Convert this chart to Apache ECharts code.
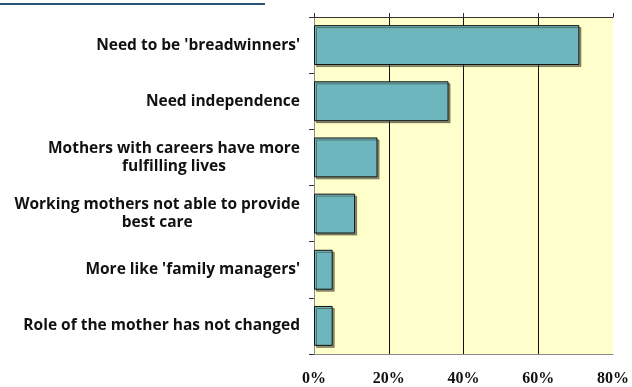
<!DOCTYPE html>
<html>
<head>
<meta charset="utf-8">
<script src="https://cdn.jsdelivr.net/npm/echarts@6/dist/echarts.min.js"></script>
<style>
  html, body { margin: 0; padding: 0; background: #ffffff; }
  #chart { width: 632px; height: 387px; }
</style>
</head>
<body>
<div id="chart"></div>
<script>
// Survey responses: reasons given, share of respondents (%)
const categories = [
  "Need to be 'breadwinners'",
  "Need independence",
  "Mothers with careers have more\nfulfilling lives",
  "Working mothers not able to provide\nbest care",
  "More like 'family managers'",
  "Role of the mother has not changed"
];
const shares = [71, 36, 17, 11, 5, 5];
const axisTicks = [0, 20, 40, 60, 80];

const labelFont = { family: 'Open Sans', size: 15.5, weight: 'bold' };
const labelGap = 14;   // distance from the category axis to the end of each label

const chart = echarts.init(document.getElementById('chart'));

const titleRule = { type: 'rect', left: 0, top: 3, shape: { width: 265, height: 2 }, style: { fill: '#2B5378' } };

chart.setOption({
  animation: false,
  backgroundColor: '#ffffff',
  graphic: [titleRule],
  grid: {
    left: 314, right: 18, top: 17, bottom: 33,
    show: true, backgroundColor: '#FFFFCC', borderWidth: 0
  },
  xAxis: [
    {
      type: 'value', position: 'top',
      min: axisTicks[0], max: axisTicks[axisTicks.length - 1], interval: 20,
      axisLine: { show: true, lineStyle: { color: '#333333', width: 1 } },
      axisTick: { show: true, inside: false, length: 4, lineStyle: { color: '#333333' } },
      axisLabel: { show: false },
      splitLine: { show: true, showMinLine: false, showMaxLine: false, lineStyle: { color: '#111111', width: 1 } }
    },
    {
      type: 'value', position: 'bottom',
      min: axisTicks[0], max: axisTicks[axisTicks.length - 1], interval: 20,
      axisLine: { show: true, lineStyle: { color: '#8a8a8a', width: 1 } },
      axisTick: { show: false },
      splitLine: { show: false },
      axisLabel: {
        show: true, margin: 17, formatter: '{value}%',
        fontFamily: 'Liberation Serif', fontWeight: 'bold', fontSize: 16, color: '#111111'
      }
    }
  ],
  yAxis: [
    {
      type: 'category', data: categories, inverse: true,
      axisLine: { show: true, lineStyle: { color: '#111111', width: 1 } },
      axisTick: { show: true, length: 5, lineStyle: { color: '#333333' } },
      axisLabel: { show: false }
    },
    {
      type: 'category', data: categories, inverse: true, position: 'right',
      axisLine: { show: true, lineStyle: { color: '#8a8a8a', width: 1 } },
      axisTick: { show: false }, axisLabel: { show: false }
    }
  ],
  series: [
    {
      type: 'bar', xAxisIndex: 0, yAxisIndex: 0,
      data: shares, barCategoryGap: '29%',
      itemStyle: {
        color: '#6DB6BD', borderColor: '#111111', borderWidth: 1,
        shadowColor: 'rgba(60,60,40,0.55)', shadowOffsetX: 2, shadowOffsetY: 2, shadowBlur: 0
      }
    }
  ]
});

// Category labels: each block ends at the axis and its lines are centred
// on one another, placed at the category positions given by the y axis.
const measureCtx = document.createElement('canvas').getContext('2d');
measureCtx.font = labelFont.weight + ' ' + labelFont.size + 'px "' + labelFont.family + '"';
const axisX = chart.convertToPixel({ xAxisIndex: 0 }, axisTicks[0]);
const labelTexts = categories.map(function (cat, i) {
  const w = Math.max.apply(null, cat.split('\n').map(function (l) { return measureCtx.measureText(l).width; }));
  return {
    type: 'text',
    x: axisX - labelGap - w / 2,
    y: chart.convertToPixel({ yAxisIndex: 0 }, i),
    style: {
      text: cat, align: 'center', verticalAlign: 'middle',
      fontFamily: labelFont.family, fontWeight: labelFont.weight, fontSize: labelFont.size,
      lineHeight: 18, fill: '#111111'
    }
  };
});
chart.setOption({ graphic: [titleRule].concat(labelTexts) });
</script>
</body>
</html>
